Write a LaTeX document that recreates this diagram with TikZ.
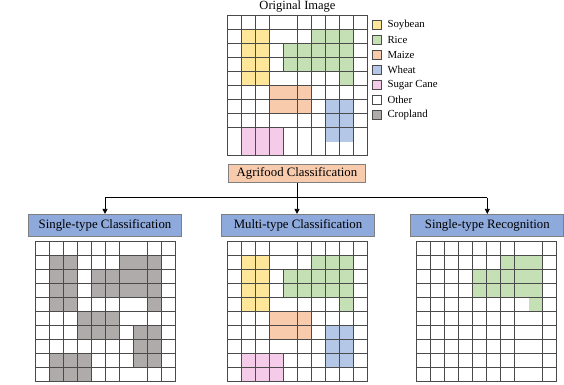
\documentclass[tikz,border=0pt]{standalone}
\usepackage{fontspec}
\setmainfont{Liberation Serif}
\usetikzlibrary{arrows.meta}
\definecolor{soy}{HTML}{FFE699}
\definecolor{rice}{HTML}{C5E0B4}
\definecolor{maize}{HTML}{F8CBAD}
\definecolor{wheat}{HTML}{B4C7E7}
\definecolor{cane}{HTML}{F4CCEA}
\definecolor{crop}{HTML}{AFABAB}
\definecolor{gridc}{HTML}{4A4A4A}
\definecolor{boxblue}{HTML}{8EA9DB}
\definecolor{boxedge}{HTML}{7F7F7F}
\tikzset{
  gridline/.style={draw=gridc, line width=1pt, line cap=rect},
  titlebox/.style={draw=boxedge, line width=0.8pt, fill=boxblue, minimum width=153pt, minimum height=22.4pt, inner sep=0pt, font=\fontsize{12.8}{14}\selectfont},
  agribox/.style={draw=boxedge, line width=0.8pt, fill=maize, minimum width=137pt, minimum height=18.7pt, inner sep=0pt, font=\fontsize{12.8}{14}\selectfont},
  legsq/.style={draw=gridc, line width=0.8pt, minimum width=8.7pt, minimum height=9pt, inner sep=0pt},
  leglabel/.style={anchor=west, inner sep=0pt, font=\fontsize{10.8}{12}\selectfont},
  conn/.style={draw=black, line width=0.8pt},
  arr/.style={conn, -{Triangle[length=5pt,width=5pt]}},
  cellgrid/.style={x=14pt, y=-14pt},
}
\begin{document}
\begin{tikzpicture}[x=1pt, y=-1pt]
\useasboundingbox (0,0) rectangle (564,384);

% ---------- Original image grid ----------
\begin{scope}[shift={(227.5,15.5)}, cellgrid]
  \fill[soy] (1,1) rectangle (3,5);
  \fill[rice] (6,1) rectangle (9,2);
  \fill[rice] (4,2) rectangle (9,4);
  \fill[rice] (8,4) rectangle (9,5);
  \fill[maize] (3,5) rectangle (6,7);
  \fill[wheat] (7,6) rectangle (9,9);
  \fill[cane] (1,8) rectangle (4,10);
  \foreach \r in {0,...,8,10} \draw[gridline] (0,\r) -- (10,\r);
  \foreach \c in {0,1,2,3,5,6,7,8,9,10} \draw[gridline] (\c,0) -- (\c,10);
  \draw[gridline] (4,2) -- (4,4);
  \draw[gridline] (4,8) -- (4,10);
\end{scope}
\node[anchor=base, inner sep=0pt, font=\fontsize{12.5}{14}\selectfont] (origtitle) at (297.5,9.3) {Original Image};

% ---------- Legend ----------
\foreach \col/\lab [count=\i from 0] in {soy/Soybean, rice/Rice, maize/Maize, wheat/Wheat, cane/Sugar Cane, white/Other, crop/Cropland} {
  \node[legsq, fill=\col] (sq\i) at (376.6, 24.5+15.1*\i) {};
  \node[leglabel] (lab\i) at (387.3, 24.5+15.1*\i) {\lab};
}

% ---------- Boxes ----------
\node[agribox] (agri) at (297,173.3) {Agrifood Classification};
\node[titlebox] (single) at (105,225.5) {Single-type Classification};
\node[titlebox] (multi) at (298,225.5) {Multi-type Classification};
\node[titlebox] (recog) at (487.3,225.5) {Single-type Recognition};

\coordinate (jl) at (105,197.7);
\coordinate (jr) at (487.3,197.7);
\draw[conn] (jl) -- (jr);
\draw[arr] (agri.south) -- (agri.south |- multi.north);
\draw[arr] (jl) -- (single.north);
\draw[arr] (jr) -- (recog.north);

% ---------- Single-type classification grid ----------
\begin{scope}[shift={(35.5,241.5)}, cellgrid]
  \fill[crop] (1,1) rectangle (3,5);
  \fill[crop] (6,1) rectangle (9,2);
  \fill[crop] (4,2) rectangle (9,4);
  \fill[crop] (8,4) rectangle (9,5);
  \fill[crop] (3,5) rectangle (6,7);
  \fill[crop] (7,6) rectangle (9,9);
  \fill[crop] (1,8) rectangle (4,10);
  \foreach \r in {0,...,10} \draw[gridline] (0,\r) -- (10,\r);
  \foreach \c in {0,1,2,3,4,5,6,8,9,10} \draw[gridline] (\c,0) -- (\c,10);
  \draw[gridline] (7,6) -- (7,9);
\end{scope}

% ---------- Multi-type classification grid ----------
\begin{scope}[shift={(227.5,241.5)}, cellgrid]
  \fill[soy] (1,1) rectangle (3,5);
  \fill[rice] (6,1) rectangle (9,2);
  \fill[rice] (4,2) rectangle (9,4);
  \fill[rice] (8,4) rectangle (9,5);
  \fill[maize] (3,5) rectangle (6,7);
  \fill[wheat] (7,6) rectangle (9,9);
  \fill[cane] (1,8) rectangle (4,10);
  \foreach \r in {0,...,10} \draw[gridline] (0,\r) -- (10,\r);
  \foreach \c in {0,1,2,3,5,6,7,8,9,10} \draw[gridline] (\c,0) -- (\c,10);
  \draw[gridline] (4,2) -- (4,4);
  \draw[gridline] (4,8) -- (4,10);
\end{scope}

% ---------- Single-type recognition grid ----------
\begin{scope}[shift={(416.5,241.5)}, cellgrid]
  \fill[rice] (6,1) rectangle (9,2);
  \fill[rice] (4,2) rectangle (9,4);
  \fill[rice] (8,4) rectangle (9,5);
  \foreach \r in {0,...,10} \draw[gridline] (0,\r) -- (10,\r);
  \foreach \c in {0,1,2,3,4,5,6,7,9,10} \draw[gridline] (\c,0) -- (\c,10);
\end{scope}
\end{tikzpicture}
\end{document}
